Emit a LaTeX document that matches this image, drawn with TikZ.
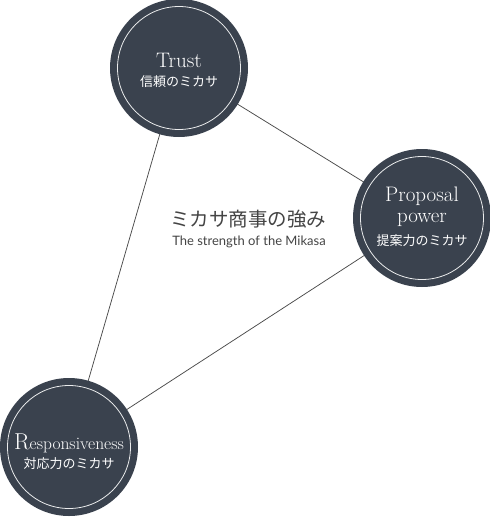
\documentclass[tikz,border=0pt]{standalone}
\usepackage{fontspec}
\newfontfamily\cjk{Noto Sans CJK JP}
\newfontfamily\lato{Lato}
\definecolor{disc}{HTML}{3A424E}
\definecolor{linec}{HTML}{4A4A4A}
\definecolor{txt}{HTML}{444444}
\begin{document}
\begin{tikzpicture}[x=1pt,y=-1pt,
  disk/.style={circle,fill=disc,minimum size=138pt,inner sep=0pt},
  ring/.style={circle,draw=white!90!disc,line width=0.8pt,minimum size=123pt,inner sep=0pt},
  conn/.style={draw=linec,line width=0.75pt},
  en/.style={text=white,font=\fontsize{21}{21}\selectfont,inner sep=0pt,align=center},
  jp/.style={text=white,font=\cjk\fontsize{13}{14}\selectfont,inner sep=0pt}]
\useasboundingbox (0,0) rectangle (490,517);
\coordinate (t) at (179,68);
\coordinate (p) at (422,218);
\coordinate (r) at (69,447);
\draw[conn] (t) -- (p);
\draw[conn] (t) -- (r);
\draw[conn] (r) -- (p);
\node[disk] (tc) at (t) {};
\node[ring] (tr) at (t) {};
\node[disk] (pc) at (p) {};
\node[ring] (pr) at (p) {};
\node[disk] (rc) at (r) {};
\node[ring] (rr) at (r) {};
\node[en] (t1) at (179,60) {Trust};
\node[jp] (t2) at (179,82) {信頼のミカサ};
\node[en] (p1) at (422,207) {Proposal\\power};
\node[jp] (p3) at (422,241) {提案力のミカサ};
\node[en,font=\fontsize{17.5}{20}\selectfont] (r1) at (69,443) {{\fontsize{23}{26}\selectfont R}esponsiveness};
\node[jp] (r2) at (69,464) {対応力のミカサ};
\node[text=txt,font=\cjk\fontsize{19.5}{20}\selectfont,inner sep=0pt] (c1) at (248,219) {ミカサ商事の強み};
\node[text=txt,font=\lato\fontsize{13}{14}\selectfont,inner sep=0pt] (c2) at (249,242) {The strength of the Mikasa};
\end{tikzpicture}
\end{document}
